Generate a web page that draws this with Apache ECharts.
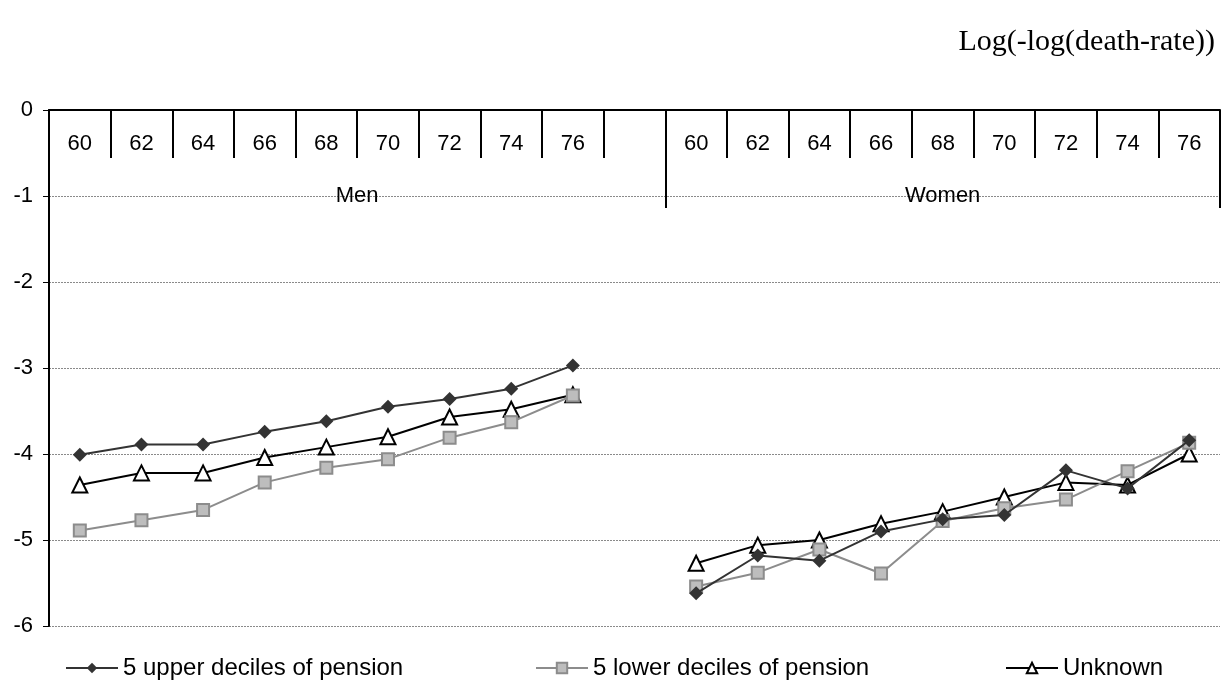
<!DOCTYPE html>
<html>
<head>
<meta charset="utf-8">
<script src="https://cdn.jsdelivr.net/npm/echarts@6/dist/echarts.min.js"></script>
<style>
html,body{margin:0;padding:0;background:#fff;}
#chart{width:1228px;height:698px;}
</style>
</head>
<body>
<div id="chart"></div>
<script>
// ---- data ----
const ages = ['60', '62', '64', '66', '68', '70', '72', '74', '76'];
const groups = ['Men', 'Women'];
const seriesNames = ['5 upper deciles of pension', '5 lower deciles of pension', 'Unknown'];
const yTicks = [0, -1, -2, -3, -4, -5, -6];

const menUpper   = [-4.01, -3.89, -3.89, -3.74, -3.62, -3.45, -3.36, -3.24, -2.97];
const menLower   = [-4.89, -4.77, -4.65, -4.33, -4.16, -4.06, -3.81, -3.63, -3.32];
const menUnknown = [-4.36, -4.22, -4.22, -4.04, -3.92, -3.80, -3.57, -3.48, -3.31];

const womenUpper   = [-5.62, -5.18, -5.24, -4.90, -4.76, -4.71, -4.19, -4.40, -3.84];
const womenLower   = [-5.54, -5.38, -5.11, -5.39, -4.78, -4.63, -4.53, -4.20, -3.87];
const womenUnknown = [-5.27, -5.06, -5.00, -4.81, -4.67, -4.50, -4.33, -4.36, -4.00];

// ---- build categories: Men ages + one empty slot, then Women ages ----
const menCats = ages.map(a => 'Men|' + a).concat(['Men|']);
const womenCats = ages.map(a => 'Women|' + a);
const categories = menCats.concat(womenCats);
const groupSizes = [menCats.length, womenCats.length];
const total = categories.length;

const groupBounds = [0];
groupSizes.forEach(s => groupBounds.push(groupBounds[groupBounds.length - 1] + s));
const groupCenters = groups.map((g, i) => (groupBounds[i] + groupBounds[i + 1]) / 2);

function join(men, women) { return men.concat([null]).concat(women); }

const FONT = 'Arial, "Liberation Sans", sans-serif';

const chart = echarts.init(document.getElementById('chart'), null, { renderer: 'canvas' });

const styles = [
  { line: '#333333', fill: '#333333', border: '#333333', symbol: 'diamond', size: 14, width: 2 },
  { line: '#8c8c8c', fill: '#bdbdbd', border: '#8c8c8c', symbol: 'rect', size: 12, width: 2 },
  { line: '#000000', fill: '#ffffff', border: '#000000', symbol: 'triangle', size: 15, width: 2 }
];
const dataSets = [join(menUpper, womenUpper), join(menLower, womenLower), join(menUnknown, womenUnknown)];
const legendLeft = [60, 530, 1000];

chart.setOption({
  animation: false,
  backgroundColor: '#ffffff',
  title: {
    text: 'Log(-log(death-rate))',
    right: 8,
    top: 22,
    textStyle: { fontFamily: '"Liberation Serif", "Times New Roman", serif', fontSize: 30, fontWeight: 'normal', color: '#000' }
  },
  legend: seriesNames.map((n, i) => ({
    data: [n],
    left: legendLeft[i],
    bottom: 13,
    itemWidth: 52,
    itemHeight: 13,
    itemGap: 6,
    textStyle: { fontFamily: FONT, fontSize: 24, color: '#000' }
  })),
  grid: { left: 49, right: 8, top: 110, bottom: 72, containLabel: false },
  xAxis: [
    {
      type: 'category',
      position: 'top',
      data: categories,
      boundaryGap: true,
      axisLine: { show: true, lineStyle: { color: '#000', width: 2 } },
      axisTick: { show: true, inside: true, length: 48, interval: 0, lineStyle: { color: '#000', width: 2 } },
      axisLabel: {
        inside: true, interval: 0, margin: 23,
        fontFamily: FONT, fontSize: 22, color: '#000',
        formatter: v => v.split('|')[1]
      },
      splitLine: { show: false }
    },
    {
      type: 'value',
      position: 'top',
      min: 0,
      max: total,
      axisLine: { show: false },
      axisTick: { show: true, inside: true, length: 98, customValues: groupBounds, lineStyle: { color: '#000', width: 2 } },
      axisLabel: {
        inside: true, margin: 75,
        customValues: groupCenters,
        fontFamily: FONT, fontSize: 22, color: '#000',
        formatter: v => { const i = groupCenters.indexOf(v); return i >= 0 ? groups[i] : ''; }
      },
      splitLine: { show: false }
    }
  ],
  yAxis: {
    type: 'value',
    min: yTicks[yTicks.length - 1],
    max: yTicks[0],
    interval: 1,
    axisLine: { show: true, lineStyle: { color: '#000', width: 2 } },
    axisTick: { show: true, length: 6, lineStyle: { color: '#000', width: 1 } },
    axisLabel: { margin: 16, fontFamily: FONT, fontSize: 22, color: '#000' },
    splitLine: { show: true, lineStyle: { color: '#8a8a8a', width: 1, type: [2, 1] } }
  },
  series: seriesNames.map((n, i) => ({
    name: n,
    type: 'line',
    xAxisIndex: 0,
    data: dataSets[i],
    connectNulls: false,
    symbol: styles[i].symbol,
    symbolSize: styles[i].size,
    lineStyle: { color: styles[i].line, width: styles[i].width },
    itemStyle: { color: styles[i].fill, borderColor: styles[i].border, borderWidth: i === 0 ? 0 : 2 },
    z: 3 - i
  }))
});
</script>
</body>
</html>
